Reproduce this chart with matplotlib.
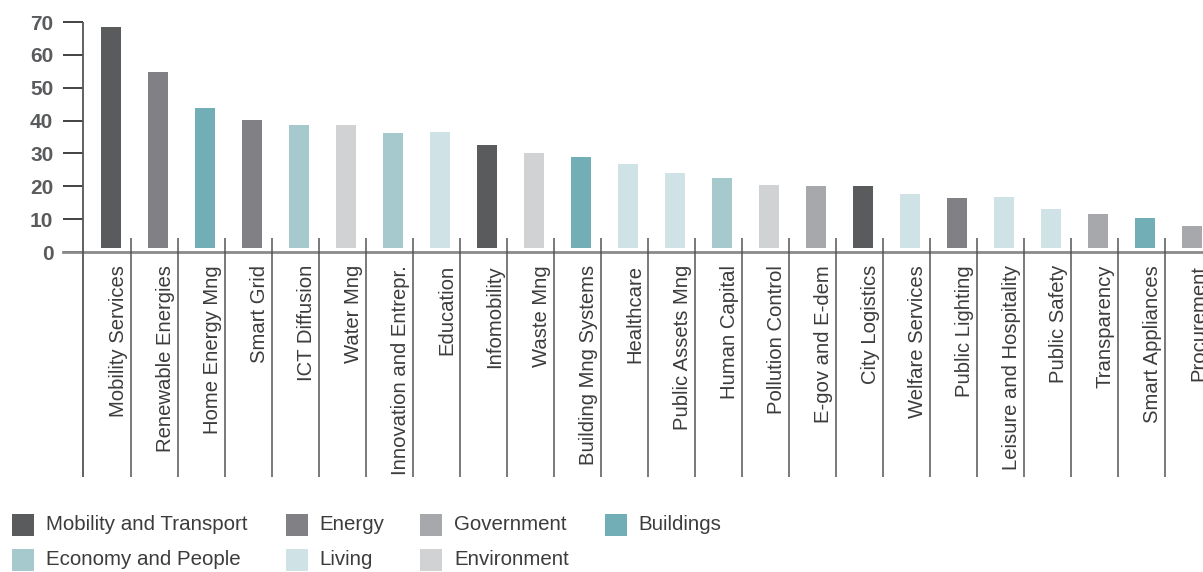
import matplotlib
matplotlib.use('Agg')
import matplotlib.pyplot as plt
from matplotlib.patches import Rectangle

plt.rcParams['font.family'] = ['Liberation Sans', 'DejaVu Sans']

# data
cats = ['Mobility Services', 'Renewable Energies', 'Home Energy Mng', 'Smart Grid',
        'ICT Diffusion', 'Water Mng', 'Innovation and Entrepr.', 'Education',
        'Infomobility', 'Waste Mng', 'Building Mng Systems', 'Healthcare',
        'Public Assets Mng', 'Human Capital', 'Pollution Control', 'E-gov and E-dem',
        'City Logistics', 'Welfare Services', 'Public Lighting', 'Leisure and Hospitality',
        'Public Safety', 'Transparency', 'Smart Appliances', 'Procurement']
vals = [68.5, 54.8, 43.8, 40.2, 38.6, 38.6, 36.2, 36.5, 32.6, 30.1, 28.9, 26.8,
        24.0, 22.5, 20.4, 20.1, 20.1, 17.7, 16.4, 16.7, 13.1, 11.6, 10.3, 7.9]
groups = ['Mobility and Transport', 'Energy', 'Buildings', 'Energy', 'Economy and People',
          'Environment', 'Economy and People', 'Living', 'Mobility and Transport',
          'Environment', 'Buildings', 'Living', 'Living', 'Economy and People',
          'Environment', 'Government', 'Mobility and Transport', 'Living', 'Energy',
          'Living', 'Living', 'Government', 'Buildings', 'Government']

group_names = ['Mobility and Transport', 'Energy', 'Government', 'Buildings',
               'Economy and People', 'Living', 'Environment']
group_colors = ['#5a5b5d', '#818185', '#a7a8ab', '#72aeb5', '#a6c9ce', '#cfe3e6', '#d1d2d4']
cmap = dict(zip(group_names, group_colors))

base = 1.3  # bars sit slightly above the zero line

fig = plt.figure(figsize=(12.03, 5.72), dpi=100)
ax = fig.add_axes([83/1203, 1-252/572, 1-83/1203, 230/572])

x = list(range(len(cats)))
heights = [v - base for v in vals]
ax.bar(x, heights, bottom=base, width=0.43, color=[cmap[g] for g in groups], zorder=2)

ax.set_xlim(-0.596, 23.23)
ax.set_ylim(0, 70)

for s in ['top', 'right', 'bottom', 'left']:
    ax.spines[s].set_visible(False)

ax.set_yticks(range(0, 71, 10))
ax.tick_params(axis='y', length=14.4, width=1.2, color='#222222', pad=7,
               labelsize=15, labelcolor='#5a5b5d')
for t in ax.get_yticklabels():
    t.set_fontweight('bold')

ax.set_xticks([i + 0.15 for i in x])
ax.set_xticklabels(cats, rotation=90, va='top', ha='center', fontsize=14.6, color='#3c3c3c')
ax.tick_params(axis='x', length=0, pad=9.4)

# zero line
ax.axhline(0, xmin=-20/1120, xmax=1, color='#8a8a8a', lw=2, clip_on=False, zorder=3)
# y axis line, running down through the label area
ax.vlines(-0.596, -68.5, 70, color='#555555', lw=1.3, clip_on=False, zorder=3)
# category separators
ax.vlines([i + 0.42 for i in x], -68.5, 4.3, color='#555555', lw=1.1, clip_on=False, zorder=3)

# legend
col_sq = [12, 286, 420, 605]
col_tx = [46, 319, 454, 638]
row_y = [525, 559.5]
for k, (name, col) in enumerate(zip(group_names, group_colors)):
    r, c = divmod(k, 4)
    fig.patches.append(Rectangle((col_sq[c]/1203, 1-(row_y[r]+11)/572), 22/1203, 22/572,
                                 transform=fig.transFigure, facecolor=col, edgecolor='none'))
    fig.text(col_tx[c]/1203, 1-row_y[r]/572, name, va='center', ha='left',
             fontsize=14.8, color='#3c3c3c')

fig.savefig('out.png', dpi=100)
